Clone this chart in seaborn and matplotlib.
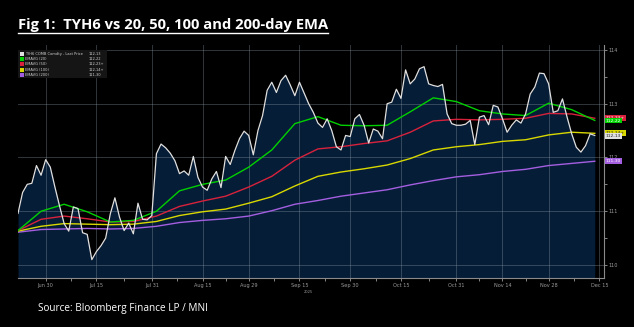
import numpy as np
import pandas as pd
import matplotlib
matplotlib.use("Agg")
import matplotlib.pyplot as plt
import matplotlib.transforms as mtransforms
from matplotlib.patches import Rectangle
from matplotlib.lines import Line2D
import seaborn as sns

# ---------------- data ----------------
start_date = "2025-06-20"
axis_end_date = "2025-12-15"

price = [110.96, 111.35, 111.50, 111.52, 111.85, 111.67, 111.96, 111.82, 111.45, 111.10,
         110.77, 110.63, 111.08, 111.05, 110.60, 110.57, 110.10, 110.25, 110.36, 110.50,
         110.95, 111.25, 110.89, 110.64, 110.78, 110.58, 111.15, 110.85, 110.84, 110.92,
         112.07, 112.25, 112.18, 112.08, 111.94, 111.70, 111.75, 111.67, 112.02, 111.63,
         111.45, 111.39, 111.60, 111.74, 111.44, 112.02, 111.87, 112.13, 112.35, 112.49,
         112.41, 112.05, 112.50, 112.78, 113.25, 113.40, 113.21, 113.43, 113.53, 113.35,
         113.15, 113.40, 113.20, 113.00, 112.84, 112.64, 112.56, 112.72, 112.50, 112.20,
         112.14, 112.41, 112.39, 112.72, 112.80, 112.60, 112.27, 112.53, 112.49, 112.35,
         113.00, 113.03, 113.27, 113.10, 113.63, 113.37, 113.46, 113.65, 113.69, 113.37,
         113.34, 113.32, 113.36, 112.81, 112.63, 112.60, 112.60, 112.62, 112.69, 112.24,
         112.75, 112.78, 112.61, 112.97, 112.94, 112.72, 112.47, 112.60, 112.70, 112.64,
         112.81, 113.18, 113.31, 113.57, 113.56, 113.37, 112.84, 112.87, 113.09, 112.75,
         112.44, 112.19, 112.10, 112.22, 112.44, 112.41]

ema_step = 5
ema20 = [110.64, 111.00, 111.13, 110.99, 110.80, 110.83, 111.00, 111.38, 111.50, 111.58,
         111.82, 112.14, 112.63, 112.76, 112.60, 112.59, 112.60, 112.85, 113.11, 113.04,
         112.87, 112.81, 112.78, 113.01, 112.89, 112.69]
ema50 = [110.64, 110.85, 110.91, 110.86, 110.80, 110.81, 110.91, 111.09, 111.19, 111.28,
         111.45, 111.65, 111.95, 112.16, 112.20, 112.26, 112.31, 112.47, 112.68, 112.71,
         112.70, 112.71, 112.73, 112.82, 112.81, 112.73]
ema100 = [110.63, 110.72, 110.77, 110.76, 110.75, 110.76, 110.81, 110.92, 110.99, 111.04,
          111.15, 111.27, 111.47, 111.65, 111.73, 111.79, 111.86, 111.98, 112.14, 112.20,
          112.24, 112.30, 112.33, 112.42, 112.47, 112.45]
ema200 = [110.61, 110.66, 110.67, 110.68, 110.67, 110.68, 110.72, 110.79, 110.83, 110.86,
          110.91, 111.01, 111.13, 111.20, 111.28, 111.34, 111.40, 111.49, 111.57, 111.64,
          111.68, 111.74, 111.78, 111.85, 111.89, 111.93]

tick_dates = ["2025-06-30", "2025-07-15", "2025-07-31", "2025-08-15", "2025-08-29",
              "2025-09-15", "2025-09-30", "2025-10-15", "2025-10-31", "2025-11-14",
              "2025-11-28", "2025-12-15"]
tick_labels = ["Jun 30", "Jul 15", "Jul 31", "Aug 15", "Aug 29", "Sep 15", "Sep 30",
               "Oct 15", "Oct 31", "Nov 14", "Nov 28", "Dec 15"]
y_ticks = [110, 111, 112, 113, 114]

legend_labels = ["TYH6 COMB Comdty - Last Price", "EMAVG (20)", "EMAVG (50)",
                 "EMAVG (100)", "EMAVG (200)"]
legend_values = ["112-13", "112-22", "112-23+", "112-14+", "111-30"]
series_colors = ["#e0e0e0", "#00d000", "#d8223c", "#d8d800", "#a45ee0"]

title = "Fig 1:  TYH6 vs 20, 50, 100 and 200-day EMA"
source = "Source: Bloomberg Finance LP / MNI"


def from32(s):
    whole, frac = s.split("-")
    half = 0.5 if frac.endswith("+") else 0.0
    return int(whole) + (int(frac.rstrip("+")) + half) / 32.0


# ---------------- build frames ----------------
axis_dates = pd.bdate_range(start_date, axis_end_date)
price_df = pd.DataFrame({"i": np.arange(len(price)), "date": axis_dates[:len(price)],
                         "price": price})
ema_i = np.arange(0, len(price), ema_step)
ema_df = pd.DataFrame({"i": ema_i, "EMA20": ema20, "EMA50": ema50,
                       "EMA100": ema100, "EMA200": ema200})
tick_pos = axis_dates.get_indexer(pd.to_datetime(tick_dates))

# ---------------- figure ----------------
W, H = 634, 327
fig = plt.figure(figsize=(W / 100, H / 100), dpi=100, facecolor="black")
ax = fig.add_axes([18 / W, 1 - 278 / H, 586 / W, 233 / H])
ax.set_facecolor("black")

ax.fill_between(price_df["i"], price_df["price"], 109.0, color="#061d38", zorder=1, lw=0)

for k in y_ticks:
    ax.axhline(k, color=(0.55, 0.6, 0.65, 0.35), lw=0.7, zorder=2)
for p in tick_pos:
    ax.axvline(p, color=(0.55, 0.6, 0.65, 0.35), lw=0.7, zorder=2)

sns.lineplot(data=ema_df, x="i", y="EMA200", ax=ax, color=series_colors[4], lw=1.0, zorder=3)
sns.lineplot(data=ema_df, x="i", y="EMA100", ax=ax, color=series_colors[3], lw=1.0, zorder=3)
sns.lineplot(data=ema_df, x="i", y="EMA50", ax=ax, color=series_colors[2], lw=1.0, zorder=3)
sns.lineplot(data=ema_df, x="i", y="EMA20", ax=ax, color=series_colors[1], lw=1.0, zorder=3)
sns.lineplot(data=price_df, x="i", y="price", ax=ax, color=series_colors[0], lw=0.9, zorder=4)

ax.set_xlim(0, 127)
ax.set_ylim(109.758, 114.093)
ax.set_xlabel("")
ax.set_ylabel("")

ax.set_xticks(tick_pos)
ax.set_xticklabels(tick_labels)
mids = [(a + b) / 2 for a, b in zip(tick_pos[:-1], tick_pos[1:])]
ax.set_xticks(mids, minor=True)
ax.yaxis.tick_right()
ax.set_yticks(y_ticks)
ax.set_yticklabels([str(v) for v in y_ticks])
ax.set_yticks([v + 0.5 for v in y_ticks[:-1]], minor=True)
ax.tick_params(axis="both", which="both", colors="#9a9a9a", labelsize=3.6, length=2, width=0.6, pad=1.5)
for s in ["top", "left"]:
    ax.spines[s].set_visible(False)
for s in ["bottom", "right"]:
    ax.spines[s].set_color("#8a8a8a")
    ax.spines[s].set_linewidth(0.8)

sep_pos = tick_pos[tick_labels.index("Sep 15")]
ax.text(sep_pos + 2.0, -0.05, "2025", transform=mtransforms.blended_transform_factory(ax.transData, ax.transAxes),
        color="#9a9a9a", fontsize=2.6, ha="center", va="top")

# right-side value tags (stacked like the terminal: later ones drawn on top)
tag_order = [2, 1, 3, 0, 4]
trans = mtransforms.blended_transform_factory(ax.transAxes, ax.transData)
tag_text_colors = ["#202020", "#ffffff", "#ffffff", "#202020", "#ffffff"]
for z, k in enumerate(tag_order):
    ax.text(1.003, from32(legend_values[k]), legend_values[k], transform=trans,
            fontsize=3.2, color=tag_text_colors[k], ha="left", va="center", zorder=6 + z,
            bbox=dict(boxstyle="square,pad=0.2", fc=series_colors[k], ec="none"),
            clip_on=False)

# legend (manual, Bloomberg style)
fig.add_artist(Rectangle((18 / W, 1 - 78 / H), 89 / W, 28 / H, transform=fig.transFigure,
                         fc="#151515", ec="none", zorder=5))
for r, (lab, val, col) in enumerate(zip(legend_labels, legend_values, series_colors)):
    yc = 54 + r * 5.2
    fig.add_artist(Rectangle((19.5 / W, 1 - (yc + 2) / H), 4 / W, 4 / H,
                             transform=fig.transFigure, fc=col, ec="none", zorder=6))
    fig.text(25 / W, 1 - yc / H, lab, color="#d0d0d0", fontsize=2.6, va="center", ha="left", zorder=7)
    fig.text(89 / W, 1 - yc / H, val, color="#d0d0d0", fontsize=2.6, va="center", ha="left", zorder=7)

# title with underline
t = fig.text(18 / W, 1 - 25 / H, title, color="white", fontsize=10.6, fontweight="bold",
             family="Open Sans", va="center", ha="left")
fig.text(38 / W, 1 - 309 / H, source, color="white", fontsize=7.2, family="Open Sans",
         va="center", ha="left")
fig.canvas.draw()
bb = t.get_window_extent()
fig.add_artist(Line2D([bb.x0 / W, bb.x1 / W], [(bb.y0 - 0.5) / H, (bb.y0 - 0.5) / H],
                      transform=fig.transFigure, color="white", lw=1.0))

fig.savefig("out.png", dpi=100, facecolor="black")
